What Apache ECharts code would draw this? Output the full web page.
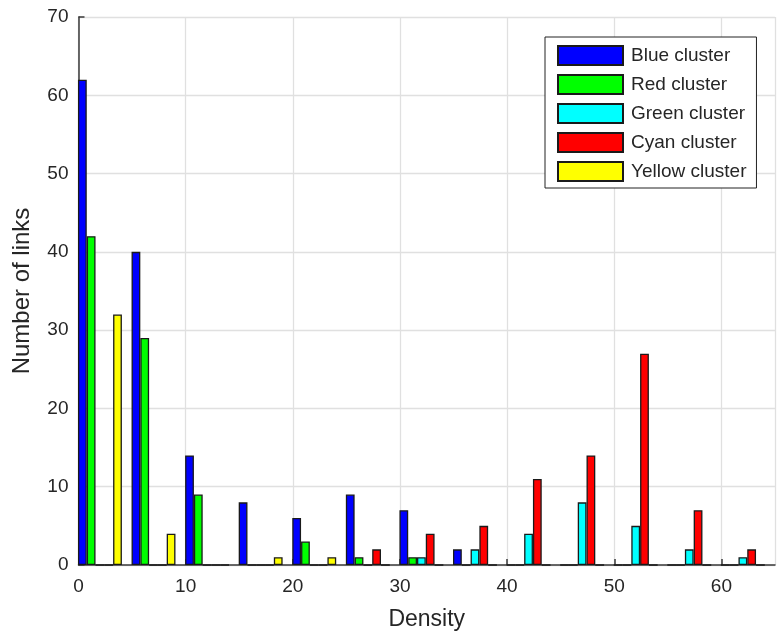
<!DOCTYPE html>
<html>
<head>
<meta charset="utf-8">
<script src="https://cdn.jsdelivr.net/npm/echarts@6/dist/echarts.min.js"></script>
<style>
  html, body { margin: 0; padding: 0; background: #fff; }
  #chart { width: 777px; height: 636px; }
</style>
</head>
<body>
<div id="chart"></div>
<script>
// Bin centres of the density histogram
const binCenters = [2, 7, 12, 17, 22, 27, 32, 37, 42, 47, 52, 57, 62];

// Link counts per bin for each cluster
const blueCluster   = [62, 40, 14, 8, 6, 9, 7, 2, 0, 0, 0, 0, 0];
const redCluster    = [42, 29, 9, 0, 3, 1, 1, 0, 0, 0, 0, 0, 0];
const greenCluster  = [0, 0, 0, 0, 0, 0, 1, 2, 4, 8, 5, 2, 1];
const cyanCluster   = [0, 0, 0, 0, 0, 2, 4, 5, 11, 14, 27, 7, 2];
const yellowCluster = [32, 4, 0, 1, 1, 0, 0, 0, 0, 0, 0, 0, 0];

const seriesNames  = ['Blue cluster', 'Red cluster', 'Green cluster', 'Cyan cluster', 'Yellow cluster'];
const seriesValues = [blueCluster, redCluster, greenCluster, cyanCluster, yellowCluster];
const seriesColors = ['#0000ff', '#00ff00', '#00ffff', '#ff0000', '#ffff00'];

const xTicks = [0, 10, 20, 30, 40, 50, 60];
const yTicks = [0, 10, 20, 30, 40, 50, 60, 70];

const FONT = '"Liberation Sans", Arial, Helvetica, sans-serif';
const TEXT = '#262626';
const AXIS = '#3a3a3a';
const GRID = '#e0e0e0';

const chart = echarts.init(document.getElementById('chart'), null, { renderer: 'canvas' });

chart.setOption({
  animation: false,
  backgroundColor: '#ffffff',
  grid: { left: 78.5, right: 2, top: 17, bottom: 70, containLabel: false },
  legend: {
    orient: 'vertical',
    left: 545,
    top: 37,
    padding: [8, 10, 6, 12],
    itemGap: 8,
    itemWidth: 65,
    itemHeight: 19,
    icon: 'rect',
    backgroundColor: '#ffffff',
    borderColor: '#222222',
    borderWidth: 1,
    borderRadius: 0,
    textStyle: { fontFamily: FONT, fontSize: 19, color: TEXT, padding: [0, 0, 0, 3] },
    data: seriesNames
  },
  xAxis: {
    type: 'value',
    min: 0,
    max: 65,
    interval: 10,
    name: 'Density',
    nameLocation: 'middle',
    nameGap: 43,
    nameTextStyle: { fontFamily: FONT, fontSize: 23, color: TEXT },
    axisLine: { show: true, onZero: false, lineStyle: { color: AXIS, width: 1.5 } },
    axisTick: { show: true, inside: true, length: 6, lineStyle: { color: AXIS, width: 1.5 } },
    axisLabel: {
      margin: 12, fontFamily: FONT, fontSize: 19, color: TEXT,
      showMaxLabel: false,
      formatter: v => (xTicks.indexOf(v) >= 0 ? String(v) : '')
    },
    splitLine: { show: true, lineStyle: { color: GRID, width: 1.3 } }
  },
  yAxis: {
    type: 'value',
    min: 0,
    max: 70,
    interval: 10,
    name: 'Number of links',
    nameLocation: 'middle',
    nameGap: 44,
    nameTextStyle: { fontFamily: FONT, fontSize: 24, color: TEXT },
    axisLine: { show: true, lineStyle: { color: AXIS, width: 1.5 } },
    axisTick: { show: true, inside: true, length: 6, lineStyle: { color: AXIS, width: 1.5 } },
    axisLabel: {
      margin: 10, fontFamily: FONT, fontSize: 19, color: TEXT,
      formatter: v => (yTicks.indexOf(v) >= 0 ? String(v) : '')
    },
    splitLine: { show: true, lineStyle: { color: GRID, width: 1.3 } }
  },
  series: seriesNames.map((name, i) => ({
    name: name,
    type: 'bar',
    barGap: '0%',
    barCategoryGap: '18%',
    itemStyle: { color: seriesColors[i], borderColor: '#1a1a1a', borderWidth: 1.3 },
    data: binCenters.map((x, k) => [x, seriesValues[i][k]])
  }))
});
</script>
</body>
</html>
